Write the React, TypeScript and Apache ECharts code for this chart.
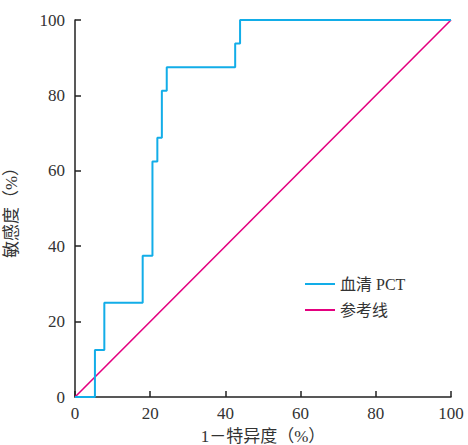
import React, { useEffect, useRef } from "react";
import * as echarts from "echarts";

const rocX = [0, 5.3, 5.3, 7.8, 7.8, 18.0, 18.0, 20.6, 20.6, 21.9, 21.9, 23.1, 23.1, 24.4, 24.4, 42.6, 42.6, 43.9, 43.9, 100];
const rocY = [0, 0, 12.5, 12.5, 25, 25, 37.5, 37.5, 62.5, 62.5, 68.75, 68.75, 81.25, 81.25, 87.5, 87.5, 93.75, 93.75, 100, 100];
const refX = [0, 100];
const refY = [0, 100];
const seriesNames = ["血清 PCT", "参考线"];
const xName = "1－特异度（%）";
const yName = "敏感度（%）";

const FONT = "'Liberation Serif', 'Noto Sans CJK SC', serif";

export default function App() {
  const ref = useRef<HTMLDivElement>(null);
  useEffect(() => {
    document.body.style.margin = "0";
    const chart = echarts.init(ref.current!, null, { renderer: "svg" });
    const axisCommon = {
      type: "value" as const,
      min: 0,
      max: 100,
      interval: 20,
      splitLine: { show: false },
      axisLine: { show: true, lineStyle: { color: "#222", width: 1.5 } },
      axisTick: { show: true, inside: true, length: 6, lineStyle: { color: "#222", width: 1.5 } },
      axisLabel: { color: "#333", fontSize: 17, fontFamily: FONT },
      nameTextStyle: { color: "#333", fontSize: 17, lineHeight: 18, fontFamily: FONT },
      nameLocation: "middle" as const,
    };
    chart.setOption({
      animation: false,
      backgroundColor: "#fff",
      grid: { left: 75, right: 17, top: 20, bottom: 48, containLabel: false, outerBoundsMode: "none" },
      xAxis: { ...axisCommon, name: xName, nameGap: 30, axisLabel: { ...axisCommon.axisLabel, margin: 8 } },
      yAxis: { ...axisCommon, name: yName, nameGap: 55, axisLabel: { ...axisCommon.axisLabel, margin: 10 } },
      legend: {
        orient: "vertical",
        left: 300,
        top: 271,
        icon: "rect",
        itemWidth: 30,
        itemHeight: 2,
        itemGap: 10,
        textStyle: { color: "#333", fontSize: 16, lineHeight: 16, fontFamily: FONT },
        data: seriesNames,
      },
      series: [
        {
          name: seriesNames[0],
          type: "line",
          symbol: "none",
          data: rocX.map((x, i) => [x, rocY[i]]),
          lineStyle: { color: "#12ADE8", width: 2 },
          itemStyle: { color: "#12ADE8" },
          z: 3,
        },
        {
          name: seriesNames[1],
          type: "line",
          symbol: "none",
          data: refX.map((x, i) => [x, refY[i]]),
          lineStyle: { color: "#E4007F", width: 1.6 },
          itemStyle: { color: "#E4007F" },
          z: 2,
        },
      ],
    });
    return () => chart.dispose();
  }, []);
  return <div ref={ref} style={{ width: 468, height: 445 }} />;
}
